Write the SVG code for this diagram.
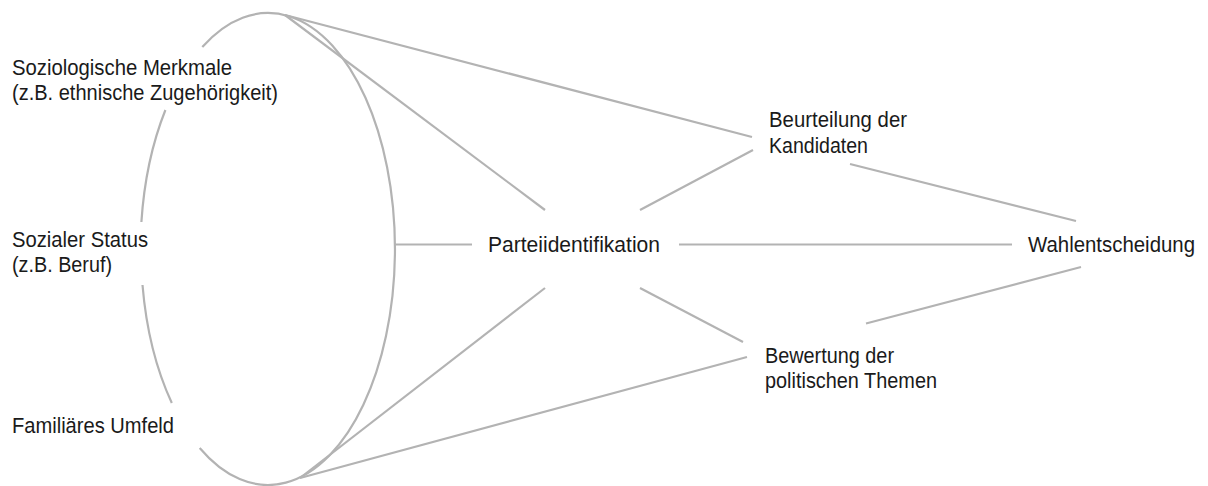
<svg xmlns="http://www.w3.org/2000/svg" width="1208" height="486" viewBox="0 0 1208 486">
<style>
.ln{stroke:#b3b3b3;stroke-width:2.2;fill:none;stroke-linecap:butt}
.t{font-family:"Liberation Sans",Arial,sans-serif;font-size:22px;fill:#1a1a1a}
</style>
<rect width="1208" height="486" fill="#ffffff"/>
<g id="ellipse">
<path class="ln" d="M 202.3 47 A 127 236 0 1 1 199.7 448"/>
<path class="ln" d="M 171.8 403 A 127 236 0 0 1 142.5 285"/>
<path class="ln" d="M 141.4 222 A 127 236 0 0 1 165.4 110"/>
</g>
<g id="connectors">
<line class="ln" x1="285" y1="15" x2="752" y2="137"/>
<line class="ln" x1="285" y1="15" x2="545" y2="210"/>
<line class="ln" x1="395" y1="244.5" x2="472" y2="244.5"/>
<line class="ln" x1="300" y1="478" x2="545" y2="288"/>
<line class="ln" x1="300" y1="478" x2="747" y2="357"/>
<line class="ln" x1="640" y1="210" x2="753" y2="150"/>
<line class="ln" x1="640" y1="288" x2="743" y2="342"/>
<line class="ln" x1="679" y1="244.5" x2="1012" y2="244.5"/>
<line class="ln" x1="850" y1="164" x2="1076" y2="221"/>
<line class="ln" x1="866" y1="323.5" x2="1081" y2="267"/>
</g>
<g id="soziologisch"><text class="t" x="12" y="75" textLength="220" lengthAdjust="spacingAndGlyphs">Soziologische Merkmale</text><text class="t" x="12" y="100" textLength="266" lengthAdjust="spacingAndGlyphs">(z.B. ethnische Zugehörigkeit)</text></g>
<g id="status"><text class="t" x="12" y="247" textLength="136" lengthAdjust="spacingAndGlyphs">Sozialer Status</text><text class="t" x="12" y="272" textLength="100" lengthAdjust="spacingAndGlyphs">(z.B. Beruf)</text></g>
<g id="familie"><text class="t" x="12" y="433" textLength="162" lengthAdjust="spacingAndGlyphs">Familiäres Umfeld</text></g>
<g id="partei"><text class="t" x="488" y="252" textLength="172" lengthAdjust="spacingAndGlyphs">Parteiidentifikation</text></g>
<g id="kandidaten"><text class="t" x="769" y="127" textLength="138" lengthAdjust="spacingAndGlyphs">Beurteilung der</text><text class="t" x="769" y="153" textLength="99" lengthAdjust="spacingAndGlyphs">Kandidaten</text></g>
<g id="themen"><text class="t" x="765" y="363" textLength="129" lengthAdjust="spacingAndGlyphs">Bewertung der</text><text class="t" x="765" y="388" textLength="172" lengthAdjust="spacingAndGlyphs">politischen Themen</text></g>
<g id="wahl"><text class="t" x="1028" y="252" textLength="167" lengthAdjust="spacingAndGlyphs">Wahlentscheidung</text></g>
</svg>
